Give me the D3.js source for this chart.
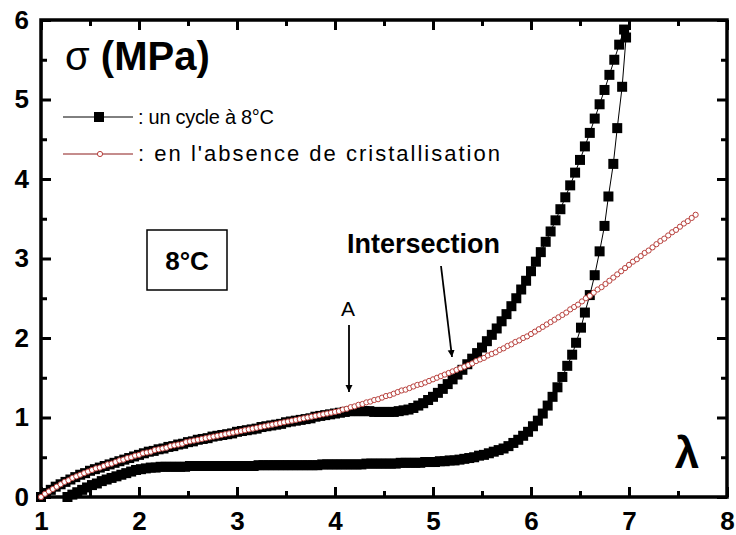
<!DOCTYPE html>
<html>
<head>
<meta charset="utf-8">
<script src="https://cdn.jsdelivr.net/npm/d3@7/dist/d3.min.js"></script>
<style>
  html, body { margin: 0; padding: 0; background: #fff; }
  svg { display: block; }
  text { font-family: "Liberation Sans", Arial, sans-serif; fill: #000; }
</style>
</head>
<body>
<svg id="chart" width="736" height="535"></svg>
<script>
// ---------- data ----------
// x: stretch ratio lambda, y: stress sigma (MPa)
const xTicksMajor = [1, 2, 3, 4, 5, 6, 7, 8];
const xTicksMinor = [1.5, 2.5, 3.5, 4.5, 5.5, 6.5, 7.5];
const yTicksMajor = [0, 1, 2, 3, 4, 5, 6];
const yTicksMinor = [0.5, 1.5, 2.5, 3.5, 4.5, 5.5];

// "un cycle à 8°C" – loading branch
const cycleLoad = [
[1.00,0.00],[1.05,0.05],[1.10,0.09],[1.15,0.13],[1.20,0.16],[1.25,0.19],[1.30,0.22],[1.35,0.25],[1.40,0.28],[1.45,0.30],
[1.50,0.33],[1.55,0.35],[1.60,0.37],[1.65,0.39],[1.70,0.41],[1.75,0.43],[1.80,0.45],[1.85,0.47],[1.90,0.49],[1.95,0.51],
[2.00,0.53],[2.05,0.55],[2.10,0.57],[2.15,0.58],[2.20,0.60],[2.25,0.61],[2.30,0.63],[2.35,0.64],[2.40,0.66],[2.45,0.67],
[2.50,0.69],[2.55,0.70],[2.60,0.72],[2.65,0.73],[2.70,0.74],[2.75,0.76],[2.80,0.77],[2.85,0.78],[2.90,0.79],[2.95,0.80],
[3.00,0.82],[3.05,0.83],[3.10,0.84],[3.15,0.85],[3.20,0.86],[3.25,0.88],[3.30,0.89],[3.35,0.90],[3.40,0.91],[3.45,0.92],
[3.50,0.94],[3.55,0.95],[3.60,0.96],[3.65,0.97],[3.70,0.98],[3.75,0.99],[3.80,1.01],[3.85,1.02],[3.90,1.03],[3.95,1.04],
[4.00,1.05],[4.05,1.06],[4.10,1.07],[4.15,1.08],[4.20,1.08],[4.25,1.08],[4.30,1.08],[4.35,1.08],[4.40,1.07],[4.45,1.07],
[4.50,1.07],[4.55,1.07],[4.60,1.07],[4.65,1.08],[4.70,1.09],[4.75,1.10],[4.80,1.12],[4.85,1.15],[4.90,1.18],[4.95,1.22],
[5.00,1.26],[5.05,1.31],[5.10,1.36],[5.15,1.42],[5.20,1.48],[5.25,1.54],[5.30,1.60],[5.35,1.67],[5.40,1.74],[5.45,1.81],
[5.50,1.88],[5.55,1.96],[5.60,2.04],[5.65,2.12],[5.70,2.21],[5.75,2.30],[5.80,2.40],[5.85,2.50],[5.90,2.61],[5.95,2.72],
[6.00,2.84],[6.05,2.96],[6.10,3.08],[6.15,3.21],[6.20,3.34],[6.25,3.48],[6.30,3.62],[6.35,3.77],[6.40,3.92],[6.45,4.08],
[6.50,4.24],[6.55,4.41],[6.60,4.58],[6.65,4.76],[6.70,4.94],[6.75,5.12],[6.80,5.31],[6.85,5.50],[6.90,5.69],[6.95,5.88]
];

// "un cycle à 8°C" – unloading branch
const cycleUnload = [
[6.97,5.78],[6.93,5.16],[6.88,4.64],[6.84,4.19],[6.79,3.78],[6.75,3.41],[6.70,3.09],[6.65,2.79],[6.60,2.54],[6.55,2.32],
[6.51,2.13],[6.46,1.94],[6.42,1.79],[6.37,1.65],[6.32,1.51],[6.27,1.38],[6.22,1.26],[6.17,1.15],[6.12,1.05],[6.07,0.96],
[6.02,0.89],[5.97,0.82],[5.92,0.77],[5.87,0.72],[5.82,0.68],[5.77,0.64],[5.72,0.61],[5.67,0.59],[5.62,0.57],[5.57,0.55],
[5.52,0.53],[5.47,0.52],[5.42,0.50],[5.37,0.49],[5.32,0.48],[5.27,0.47],[5.22,0.46],[5.17,0.46],[5.12,0.45],[5.07,0.45],
[5.02,0.44],[4.97,0.44],[4.92,0.44],[4.87,0.43],[4.82,0.43],[4.77,0.43],[4.72,0.43],[4.67,0.43],[4.62,0.42],[4.57,0.42],
[4.52,0.42],[4.47,0.42],[4.42,0.42],[4.37,0.42],[4.32,0.42],[4.27,0.41],[4.22,0.41],[4.17,0.41],[4.12,0.41],[4.07,0.41],
[4.02,0.41],[3.97,0.41],[3.92,0.41],[3.87,0.41],[3.82,0.40],[3.77,0.40],[3.72,0.40],[3.67,0.40],[3.62,0.40],[3.57,0.40],
[3.52,0.40],[3.47,0.40],[3.42,0.40],[3.37,0.40],[3.32,0.40],[3.27,0.40],[3.22,0.40],[3.17,0.39],[3.12,0.39],[3.07,0.39],
[3.02,0.39],[2.97,0.39],[2.92,0.39],[2.87,0.39],[2.82,0.39],[2.77,0.39],[2.72,0.39],[2.67,0.39],[2.62,0.39],[2.57,0.39],
[2.52,0.39],[2.47,0.38],[2.42,0.38],[2.37,0.38],[2.32,0.38],[2.27,0.38],[2.22,0.38],[2.17,0.37],[2.12,0.37],[2.07,0.36],
[2.02,0.35],[1.97,0.34],[1.92,0.32],[1.87,0.30],[1.82,0.28],[1.77,0.26],[1.72,0.24],[1.67,0.22],[1.62,0.20],[1.57,0.17],
[1.52,0.15],[1.47,0.12],[1.42,0.09],[1.37,0.06],[1.32,0.03],[1.27,0.00]
];

// "en l'absence de cristallisation"
const refCurve = [
[1.00,0.00],[1.04,0.04],[1.08,0.07],[1.12,0.10],[1.16,0.13],[1.20,0.16],[1.24,0.19],[1.28,0.21],[1.32,0.24],[1.36,0.26],
[1.40,0.28],[1.44,0.30],[1.48,0.32],[1.52,0.34],[1.56,0.36],[1.60,0.37],[1.64,0.39],[1.68,0.41],[1.72,0.42],[1.76,0.44],
[1.80,0.46],[1.84,0.47],[1.88,0.49],[1.92,0.50],[1.96,0.52],[2.00,0.53],[2.04,0.55],[2.08,0.56],[2.12,0.57],[2.16,0.59],
[2.20,0.60],[2.24,0.61],[2.28,0.62],[2.32,0.64],[2.36,0.65],[2.40,0.66],[2.44,0.67],[2.48,0.69],[2.52,0.70],[2.56,0.71],
[2.60,0.72],[2.64,0.73],[2.68,0.74],[2.72,0.75],[2.76,0.76],[2.80,0.77],[2.84,0.78],[2.88,0.79],[2.92,0.80],[2.96,0.81],
[3.00,0.82],[3.04,0.83],[3.08,0.84],[3.12,0.85],[3.16,0.86],[3.20,0.87],[3.24,0.88],[3.28,0.89],[3.32,0.90],[3.36,0.91],
[3.40,0.92],[3.44,0.93],[3.48,0.94],[3.52,0.95],[3.56,0.96],[3.60,0.97],[3.64,0.98],[3.68,0.99],[3.72,1.00],[3.76,1.01],
[3.80,1.02],[3.84,1.03],[3.88,1.04],[3.92,1.05],[3.96,1.06],[4.00,1.07],[4.04,1.08],[4.08,1.10],[4.12,1.11],[4.16,1.13],
[4.20,1.14],[4.24,1.16],[4.28,1.17],[4.32,1.19],[4.36,1.20],[4.40,1.22],[4.44,1.23],[4.48,1.25],[4.52,1.27],[4.56,1.28],
[4.60,1.30],[4.64,1.32],[4.68,1.34],[4.72,1.35],[4.76,1.37],[4.80,1.39],[4.84,1.41],[4.88,1.42],[4.92,1.44],[4.96,1.46],
[5.00,1.48],[5.04,1.50],[5.08,1.52],[5.12,1.54],[5.16,1.56],[5.20,1.58],[5.24,1.60],[5.28,1.62],[5.32,1.64],[5.36,1.66],
[5.40,1.68],[5.44,1.71],[5.48,1.73],[5.52,1.75],[5.56,1.78],[5.60,1.80],[5.64,1.82],[5.68,1.85],[5.72,1.87],[5.76,1.90],
[5.80,1.92],[5.84,1.95],[5.88,1.97],[5.92,2.00],[5.96,2.02],[6.00,2.05],[6.04,2.08],[6.08,2.11],[6.12,2.14],[6.16,2.17],
[6.20,2.20],[6.24,2.23],[6.28,2.26],[6.32,2.29],[6.36,2.32],[6.40,2.36],[6.44,2.39],[6.48,2.42],[6.52,2.46],[6.56,2.50],
[6.60,2.53],[6.64,2.57],[6.68,2.61],[6.72,2.64],[6.76,2.68],[6.80,2.72],[6.84,2.76],[6.88,2.80],[6.92,2.84],[6.96,2.88],
[7.00,2.92],[7.04,2.96],[7.08,2.99],[7.12,3.03],[7.16,3.07],[7.20,3.10],[7.24,3.14],[7.28,3.18],[7.32,3.22],[7.36,3.25],
[7.40,3.29],[7.44,3.33],[7.48,3.36],[7.52,3.40],[7.56,3.44],[7.60,3.47],[7.64,3.51],[7.68,3.55]
];

const legendLabels = [": un cycle à 8°C", ": en l'absence de cristallisation"];
const yTitle = "(MPa)";
const xTitle = "λ";
const boxLabel = "8°C";
const annotA = "A";
const annotInter = "Intersection";

// ---------- drawing ----------
const svg = d3.select("#chart");
const x = d3.scaleLinear().domain([1, 8]).range([41, 727]);
const y = d3.scaleLinear().domain([0, 6]).range([497, 20]);
const RED_LINE = "#8b1a1a", RED_MARK = "#b8403c";

// frame
svg.append("rect")
  .attr("x", x(1)).attr("y", y(6))
  .attr("width", x(8) - x(1)).attr("height", y(0) - y(6))
  .attr("fill", "none").attr("stroke", "#000").attr("stroke-width", 3.5);

function styleAxis(g) {
  g.select(".domain").remove();
  g.selectAll(".tick line").attr("stroke", "#000").attr("stroke-width", 3);
  g.selectAll(".tick text").attr("font-size", 26).attr("font-weight", "bold")
    .attr("font-family", "'Liberation Sans', Arial, sans-serif").attr("fill", "#000");
}
// bottom
svg.append("g").attr("transform", `translate(0,${y(0)})`)
  .call(d3.axisBottom(x).tickValues(xTicksMajor).tickSize(-10).tickPadding(15).tickFormat(d3.format("d")))
  .call(styleAxis);
svg.append("g").attr("transform", `translate(0,${y(0)})`)
  .call(d3.axisBottom(x).tickValues(xTicksMinor).tickSize(-6).tickFormat(""))
  .call(styleAxis);
// top
svg.append("g").attr("transform", `translate(0,${y(6)})`)
  .call(d3.axisTop(x).tickValues(xTicksMajor).tickSize(-10).tickFormat(""))
  .call(styleAxis);
svg.append("g").attr("transform", `translate(0,${y(6)})`)
  .call(d3.axisTop(x).tickValues(xTicksMinor).tickSize(-6).tickFormat(""))
  .call(styleAxis);
// left
svg.append("g").attr("transform", `translate(${x(1)},0)`)
  .call(d3.axisLeft(y).tickValues(yTicksMajor).tickSize(-10).tickPadding(12).tickFormat(d3.format("d")))
  .call(styleAxis);
svg.append("g").attr("transform", `translate(${x(1)},0)`)
  .call(d3.axisLeft(y).tickValues(yTicksMinor).tickSize(-6).tickFormat(""))
  .call(styleAxis);
// right
svg.append("g").attr("transform", `translate(${x(8)},0)`)
  .call(d3.axisRight(y).tickValues(yTicksMajor).tickSize(-10).tickFormat(""))
  .call(styleAxis);
svg.append("g").attr("transform", `translate(${x(8)},0)`)
  .call(d3.axisRight(y).tickValues(yTicksMinor).tickSize(-6).tickFormat(""))
  .call(styleAxis);

// cycle series
const cycle = cycleLoad.concat(cycleUnload);
const line = d3.line().x(d => x(d[0])).y(d => y(d[1]));
const plot = svg.append("g");
plot.append("path").datum(cycle).attr("d", line)
  .attr("fill", "none").attr("stroke", "#000").attr("stroke-width", 1);
const SQ = 10;
plot.selectAll("rect.sq").data(cycle).enter().append("rect").attr("class", "sq")
  .attr("x", d => x(d[0]) - SQ / 2).attr("y", d => y(d[1]) - SQ / 2)
  .attr("width", SQ).attr("height", SQ).attr("fill", "#000");

// reference series
plot.append("path").datum(refCurve).attr("d", line)
  .attr("fill", "none").attr("stroke", RED_LINE).attr("stroke-width", 1);
plot.selectAll("circle.rc").data(refCurve).enter().append("circle").attr("class", "rc")
  .attr("cx", d => x(d[0])).attr("cy", d => y(d[1])).attr("r", 2.6)
  .attr("fill", "#fff").attr("stroke", RED_MARK).attr("stroke-width", 1);

// y title
const yt = svg.append("text").attr("x", 65).attr("y", 70).attr("font-size", 40);
yt.append("tspan").text("σ ");
yt.append("tspan").attr("font-weight", "bold").text(yTitle);

// legend
const lg = svg.append("g");
lg.append("line").attr("x1", 63).attr("x2", 133).attr("y1", 117).attr("y2", 117)
  .attr("stroke", "#000").attr("stroke-width", 1);
lg.append("rect").attr("x", 99 - 5).attr("y", 117 - 5).attr("width", 10).attr("height", 10).attr("fill", "#000");
lg.append("text").attr("x", 138).attr("y", 124).attr("font-size", 20)
  .attr("textLength", 136).attr("lengthAdjust", "spacing").text(legendLabels[0]);
lg.append("line").attr("x1", 63).attr("x2", 133).attr("y1", 154).attr("y2", 154)
  .attr("stroke", RED_LINE).attr("stroke-width", 1);
lg.append("circle").attr("cx", 100).attr("cy", 154).attr("r", 2.6)
  .attr("fill", "#fff").attr("stroke", RED_MARK).attr("stroke-width", 1);
lg.append("text").attr("x", 138).attr("y", 161).attr("font-size", 22)
  .attr("textLength", 362).attr("lengthAdjust", "spacing").text(legendLabels[1]);

// 8°C box
svg.append("rect").attr("x", 147).attr("y", 230).attr("width", 80).attr("height", 60)
  .attr("fill", "none").attr("stroke", "#000").attr("stroke-width", 1.5);
svg.append("text").attr("x", 187).attr("y", 270).attr("text-anchor", "middle")
  .attr("font-size", 26).attr("font-weight", "bold").text(boxLabel);

// arrows
const defs = svg.append("defs");
defs.append("marker").attr("id", "ah").attr("viewBox", "0 0 10 10")
  .attr("refX", 10).attr("refY", 5).attr("markerWidth", 7).attr("markerHeight", 10)
  .attr("markerUnits", "userSpaceOnUse").attr("orient", "auto")
  .append("path").attr("d", "M0,0 L10,5 L0,10 Z").attr("fill", "#000");

svg.append("text").attr("x", 348).attr("y", 316).attr("text-anchor", "middle")
  .attr("font-size", 21).text(annotA);
svg.append("line").attr("x1", 349).attr("y1", 325).attr("x2", 349).attr("y2", 392)
  .attr("stroke", "#000").attr("stroke-width", 1.8).attr("marker-end", "url(#ah)");

svg.append("text").attr("x", 347).attr("y", 253)
  .attr("font-size", 27).attr("font-weight", "bold").text(annotInter);
svg.append("line").attr("x1", 441).attr("y1", 266).attr("x2", 452).attr("y2", 357)
  .attr("stroke", "#000").attr("stroke-width", 1.8).attr("marker-end", "url(#ah)");

// x title
svg.append("text").attr("x", 687).attr("y", 468).attr("text-anchor", "middle")
  .attr("font-size", 44).attr("font-weight", "bold").text(xTitle);
</script>
</body>
</html>
